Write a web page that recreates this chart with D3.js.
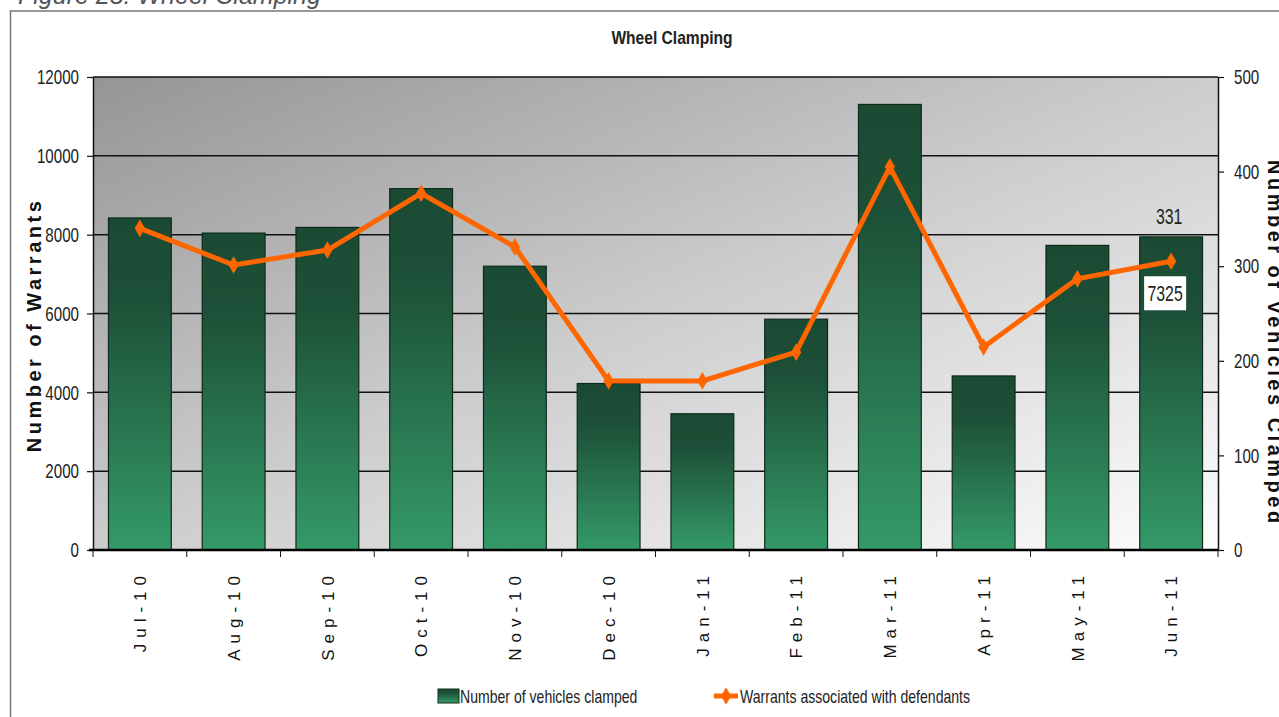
<!DOCTYPE html>
<html>
<head>
<meta charset="utf-8">
<script src="https://cdn.jsdelivr.net/npm/d3@7"></script>
<style>
  body { margin: 0; background: #fff; }
  svg { display: block; }
  .narrow { font-family: "Liberation Sans", Arial, sans-serif; fill: #222; }
  .wide { font-family: "Liberation Sans", Arial, sans-serif; fill: #111; }
</style>
</head>
<body>
<div id="chart"></div>
<script>

// months on the x axis
var months = ['Jul-10', 'Aug-10', 'Sep-10', 'Oct-10', 'Nov-10', 'Dec-10',
              'Jan-11', 'Feb-11', 'Mar-11', 'Apr-11', 'May-11', 'Jun-11'];

// bars - right axis
var vehiclesClamped = [351, 335, 341, 382, 300, 176, 144, 244, 471, 184, 322, 331];

// line - left axis
var warrants = [8160, 7230, 7610, 9050, 7690, 4290, 4290, 5020, 9720, 5150, 6880, 7325];

var leftTicks  = [0, 2000, 4000, 6000, 8000, 10000, 12000];
var rightTicks = [0, 100, 200, 300, 400, 500];

var W = 1279, H = 717;
var margin = { top: 77, right: 61, bottom: 167, left: 93 };

// squeeze a text horizontally, the original font is a very narrow one
function condense(sel, k) {
  sel.each(function () {
    var len = this.getComputedTextLength();
    d3.select(this)
      .attr('textLength', len * k)
      .attr('lengthAdjust', 'spacingAndGlyphs');
  });
}

var svg = d3.select('#chart').append('svg')
    .attr('width', W)
    .attr('height', H);

var defs = svg.append('defs');

var bg = defs.append('linearGradient')
    .attr('id', 'bgGrad')
    .attr('x1', 0).attr('y1', 0).attr('x2', 1).attr('y2', 1);
bg.append('stop').attr('offset', '0%').attr('stop-color', '#959595');
bg.append('stop').attr('offset', '50%').attr('stop-color', '#cdcdcd');
bg.append('stop').attr('offset', '100%').attr('stop-color', '#fdfdfd');

var barGrad = defs.append('linearGradient')
    .attr('id', 'barGrad')
    .attr('x1', 0).attr('y1', 0).attr('x2', 0).attr('y2', 1);
barGrad.append('stop').attr('offset', '0%').attr('stop-color', '#1b4a33');
barGrad.append('stop').attr('offset', '25%').attr('stop-color', '#1d5038');
barGrad.append('stop').attr('offset', '100%').attr('stop-color', '#349a67');

// caption cut off at the top of the picture
svg.append('text')
    .attr('x', 18).attr('y', 4)
    .attr('font-family', '"Liberation Sans", Arial, sans-serif')
    .attr('font-style', 'italic')
    .attr('font-size', 25)
    .attr('fill', '#555')
    .text('Figure 28:  Wheel Clamping');

// outer frame
svg.append('rect')
    .attr('x', 10.5).attr('y', 11)
    .attr('width', 1400).attr('height', 900)
    .attr('fill', 'none')
    .attr('stroke', '#777')
    .attr('stroke-width', 1.5);

var x0 = margin.left, x1 = W - margin.right,
    yBottom = H - margin.bottom, yTop = margin.top;

var x = d3.scaleBand()
    .domain(months)
    .range([x0, x1])
    .paddingInner(0.33)
    .paddingOuter(0.165);

var yL = d3.scaleLinear().domain([0, 12000]).range([yBottom, yTop]);
var yR = d3.scaleLinear().domain([0, 500]).range([yBottom, yTop]);

// plot area
svg.append('rect')
    .attr('x', x0).attr('y', yTop)
    .attr('width', x1 - x0).attr('height', yBottom - yTop)
    .attr('fill', 'url(#bgGrad)');

// gridlines
svg.append('g')
    .selectAll('line')
    .data(leftTicks.slice(1))
    .enter().append('line')
    .attr('x1', x0).attr('x2', x1)
    .attr('y1', d => yL(d)).attr('y2', d => yL(d))
    .attr('stroke', '#111')
    .attr('stroke-width', 1.5);

// bars
svg.append('g')
    .selectAll('rect')
    .data(vehiclesClamped)
    .enter().append('rect')
    .attr('x', (d, i) => x(months[i]))
    .attr('y', d => yR(d))
    .attr('width', x.bandwidth())
    .attr('height', d => yBottom - yR(d))
    .attr('fill', 'url(#barGrad)')
    .attr('stroke', '#0e2a1c')
    .attr('stroke-width', 1.2);

// left axis
var gl = svg.append('g')
    .attr('transform', `translate(${x0},0)`)
    .call(d3.axisLeft(yL).tickValues(leftTicks).tickFormat(d3.format('d'))
      .tickSize(6).tickPadding(8).tickSizeOuter(0));
gl.select('.domain').attr('stroke', '#111').attr('stroke-width', 1.5);
gl.selectAll('.tick line').attr('stroke', '#111').attr('stroke-width', 1.2);
gl.selectAll('.tick text')
    .attr('class', 'narrow')
    .attr('font-size', 21)
    .call(condense, 0.72);

// right axis
var gr = svg.append('g')
    .attr('transform', `translate(${x1},0)`)
    .call(d3.axisRight(yR).tickValues(rightTicks).tickSize(6).tickPadding(10).tickSizeOuter(0));
gr.select('.domain').attr('stroke', '#111').attr('stroke-width', 1.5);
gr.selectAll('.tick line').attr('stroke', '#111').attr('stroke-width', 1.2);
gr.selectAll('.tick text')
    .attr('class', 'narrow')
    .attr('font-size', 21)
    .call(condense, 0.72);

// bottom axis with ticks between categories
var gb = svg.append('g');
gb.append('line')
    .attr('x1', x0 - 4).attr('x2', x1)
    .attr('y1', yBottom).attr('y2', yBottom)
    .attr('stroke', '#000')
    .attr('stroke-width', 2.5);
gb.selectAll('.sep')
    .data(d3.range(months.length + 1))
    .enter().append('line')
    .attr('x1', i => x0 + i * x.step()).attr('x2', i => x0 + i * x.step())
    .attr('y1', yBottom).attr('y2', yBottom + 7)
    .attr('stroke', '#111');
gb.selectAll('.lbl')
    .data(months)
    .enter().append('text')
    .attr('class', 'wide')
    .attr('transform', d => `translate(${x(d) + x.bandwidth() / 2},${yBottom + 20}) rotate(-90)`)
    .attr('dy', '0.36em')
    .attr('text-anchor', 'end')
    .attr('font-size', 17)
    .attr('letter-spacing', 6)
    .text(d => d);

// line series
var cx = i => x(months[i]) + x.bandwidth() / 2;

var line = d3.line()
    .x((d, i) => cx(i))
    .y(d => yL(d));

svg.append('path')
    .datum(warrants)
    .attr('d', line)
    .attr('fill', 'none')
    .attr('stroke', '#ff6600')
    .attr('stroke-width', 5)
    .attr('stroke-linejoin', 'miter');

var diamond = d3.symbol().type(d3.symbolDiamond).size(90);

svg.append('g')
    .selectAll('path')
    .data(warrants)
    .enter().append('path')
    .attr('transform', (d, i) => `translate(${cx(i)},${yL(d)})`)
    .attr('d', diamond)
    .attr('fill', '#ff6600');

// data labels on the last month
var last = months.length - 1;
svg.append('text')
    .attr('class', 'narrow')
    .attr('x', cx(last) - 2)
    .attr('y', yR(vehiclesClamped[last]) - 13)
    .attr('text-anchor', 'middle')
    .attr('font-size', 22)
    .text(vehiclesClamped[last])
    .call(condense, 0.72);

var lx = cx(last) - 6, ly = yL(warrants[last]) + 32;
svg.append('rect')
    .attr('x', lx - 21).attr('y', ly - 17)
    .attr('width', 42).attr('height', 34)
    .attr('fill', '#fff');
svg.append('text')
    .attr('class', 'narrow')
    .attr('x', lx).attr('y', ly)
    .attr('dy', '0.36em')
    .attr('text-anchor', 'middle')
    .attr('font-size', 22)
    .text(warrants[last])
    .call(condense, 0.72);

// titles
svg.append('text')
    .attr('class', 'narrow')
    .attr('x', 672).attr('y', 44)
    .attr('text-anchor', 'middle')
    .attr('font-size', 19)
    .attr('font-weight', 'bold')
    .attr('fill', '#111')
    .text('Wheel Clamping')
    .call(condense, 0.82);

svg.append('text')
    .attr('class', 'wide')
    .attr('transform', 'translate(41,325) rotate(-90)')
    .attr('text-anchor', 'middle')
    .attr('font-size', 20)
    .attr('font-weight', 'bold')
    .attr('letter-spacing', 3.5)
    .text('Number of Warrants');

svg.append('text')
    .attr('class', 'wide')
    .attr('transform', 'translate(1268,160) rotate(90)')
    .attr('text-anchor', 'start')
    .attr('font-size', 20)
    .attr('font-weight', 'bold')
    .attr('letter-spacing', 3.5)
    .text('Number of Vehicles Clamped');

// legend
var legY = 696;
var leg = svg.append('g');
leg.append('rect')
    .attr('x', 438).attr('y', legY - 7)
    .attr('width', 21).attr('height', 14)
    .attr('fill', 'url(#barGrad)')
    .attr('stroke', '#0e2a1c');
leg.append('text')
    .attr('class', 'narrow')
    .attr('x', 460).attr('y', legY)
    .attr('dy', '0.36em')
    .attr('font-size', 19)
    .text('Number of vehicles clamped')
    .call(condense, 0.74);

leg.append('line')
    .attr('x1', 714).attr('x2', 738)
    .attr('y1', legY).attr('y2', legY)
    .attr('stroke', '#ff6600')
    .attr('stroke-width', 5);
leg.append('path')
    .attr('transform', `translate(726,${legY})`)
    .attr('d', diamond)
    .attr('fill', '#ff6600');
leg.append('text')
    .attr('class', 'narrow')
    .attr('x', 740).attr('y', legY)
    .attr('dy', '0.36em')
    .attr('font-size', 19)
    .text('Warrants associated with defendants')
    .call(condense, 0.74);

</script>
</body>
</html>
